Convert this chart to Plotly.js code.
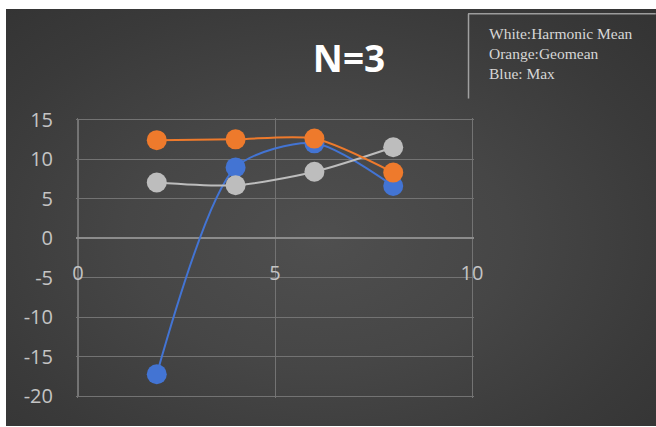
<!DOCTYPE html>
<html>
<head>
<meta charset="utf-8">
<script src="https://cdn.plot.ly/plotly-3.0.1.min.js"></script>
<style>
  html, body { margin: 0; padding: 0; background: #ffffff; }
  #wrap { position: relative; width: 656px; height: 427px; overflow: hidden; }
  #bg {
    position: absolute; left: 6px; top: 9px; right: 0; bottom: 1px;
    background: radial-gradient(ellipse at 48% 55%, #4f4f4f 0%, #464646 40%, #3a3a3a 75%, #333333 100%);
  }
  #chart { position: absolute; left: 0; top: 0; width: 656px; height: 427px; }
</style>
</head>
<body>
<div id="wrap">
  <div id="bg"></div>
  <div id="chart"></div>
</div>
<script>
// Sample sizes on the x axis
const xValues = [2, 4, 6, 8];

// Series values
const harmonicMean = [7.05, 6.7, 8.4, 11.5];   // white / gray
const geomean      = [12.4, 12.5, 12.6, 8.3];  // orange
const maxValues    = [-17.2, 8.95, 12.0, 6.6]; // blue

// Axis ticks
const xTicks = [0, 5, 10];
const yTicks = [-20, -15, -10, -5, 0, 5, 10, 15];

const noteLines = ['White:Harmonic Mean', 'Orange:Geomean', 'Blue: Max'];

// ranges padded slightly so the outer gridlines are kept
const xRange = [-0.05, 10.05];
const yRange = [-20.2, 15.2];

// plot-area placement in pixels
const M = { l: 75.5, r: 182, t: 118.4, b: 29.4 };
const W = 656, H = 427;
const plotW = W - M.l - M.r, plotH = H - M.t - M.b;
const px2x = px => (px - M.l) / plotW;
const py2y = py => (H - M.b - py) / plotH;

function series(y, color) {
  return {
    x: xValues, y: y,
    type: 'scatter', mode: 'lines+markers',
    line: { color: color, width: 2, shape: 'spline', smoothing: 0.75 },
    marker: { color: color, size: 20 },
    hoverinfo: 'x+y',
    showlegend: false
  };
}

const traces = [
  series(maxValues, '#4374D3'),
  series(harmonicMean, '#BDBDBD'),
  series(geomean, '#EE7A2C')
];

const tickFont = { family: 'Open Sans, sans-serif', size: 20, color: '#c4c4c4' };

const layout = {
  width: W, height: H,
  paper_bgcolor: 'rgba(0,0,0,0)',
  plot_bgcolor: 'rgba(0,0,0,0)',
  margin: { l: M.l, r: M.r, t: M.t, b: M.b, pad: 0 },
  showlegend: false,
  title: {
    text: '<b>N=3</b>',
    font: { family: 'Open Sans, sans-serif', size: 37, color: '#ffffff' },
    x: 349 / W, xanchor: 'center', xref: 'container',
    y: 1 - 59 / H, yanchor: 'middle', yref: 'container'
  },
  xaxis: {
    range: xRange,
    tickvals: xTicks,
    ticktext: xTicks.map(String),
    showgrid: true, gridcolor: '#737373', gridwidth: 1,
    zeroline: false, showline: false,
    ticks: '',
    anchor: 'free',
    position: (0 - yRange[0]) / (yRange[1] - yRange[0]),
    ticklabelstandoff: 21,
    tickfont: tickFont,
    fixedrange: true
  },
  yaxis: {
    range: yRange,
    tickvals: yTicks,
    ticktext: yTicks.map(String),
    showgrid: true, gridcolor: '#737373', gridwidth: 1,
    zeroline: true, zerolinecolor: '#8c8c8c', zerolinewidth: 1.5,
    showline: false,
    ticks: '',
    ticklabelstandoff: 22,
    tickfont: tickFont,
    fixedrange: true
  },
  shapes: [
    // vertical axis line along x = 0
    { type: 'line', xref: 'x', yref: 'y', layer: 'below',
      x0: 0, x1: 0, y0: yTicks[0], y1: yTicks[yTicks.length - 1],
      line: { color: '#8a8a8a', width: 1.5 } },
    // note box: top and left edges
    { type: 'line', xref: 'paper', yref: 'paper', layer: 'above',
      x0: px2x(468), x1: px2x(656), y0: py2y(14.5), y1: py2y(14.5),
      line: { color: '#9c9c9c', width: 1.5 } },
    { type: 'line', xref: 'paper', yref: 'paper', layer: 'above',
      x0: px2x(468.5), x1: px2x(468.5), y0: py2y(14.5), y1: py2y(99),
      line: { color: '#a0a0a0', width: 1.5 } }
  ],
  annotations: [
    {
      xref: 'paper', yref: 'paper',
      x: px2x(487), xanchor: 'left',
      y: py2y(24), yanchor: 'top',
      text: noteLines.join('<br>'),
      showarrow: false, align: 'left',
      font: { family: 'Liberation Serif, Times New Roman, serif', size: 15.5, color: '#d6d6d6' }
    }
  ]
};

Plotly.newPlot('chart', traces, layout, { displayModeBar: false, staticPlot: true });
</script>
</body>
</html>
